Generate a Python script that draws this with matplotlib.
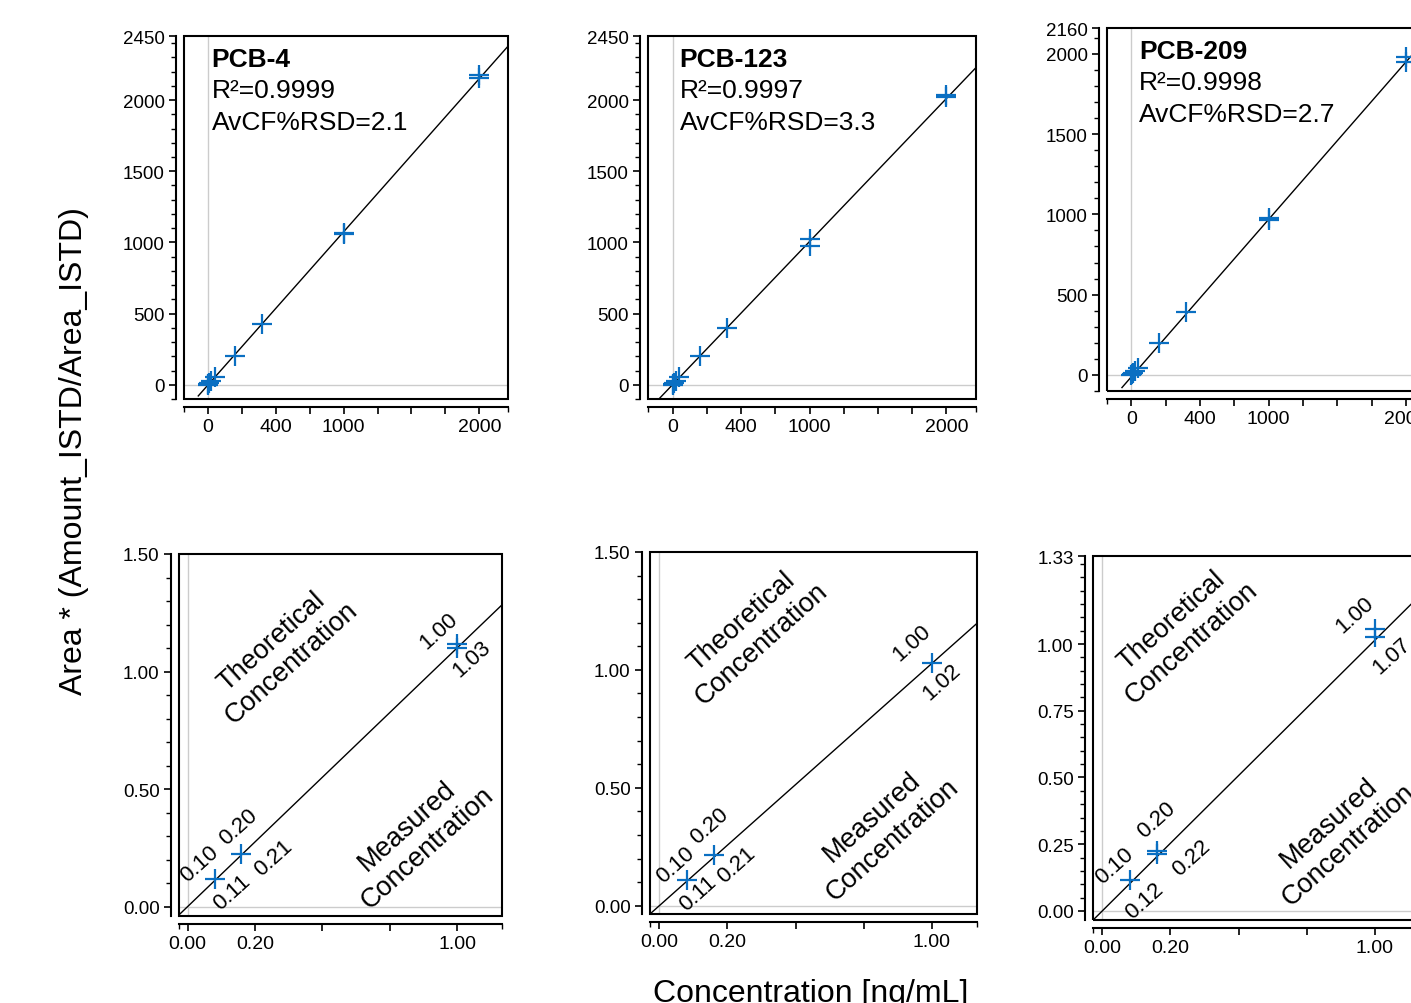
import matplotlib
matplotlib.use("Agg")
import matplotlib.pyplot as plt
from matplotlib.patches import Rectangle
from matplotlib.transforms import blended_transform_factory
import numpy as np

plt.rcParams["font.family"] = ["Liberation Sans", "DejaVu Sans"]

W, H = 1411, 1004
BLUE = "#0a6fc2"
LIGHT = "#cccccc"

# ---------------- data ----------------
compounds = ["PCB-4", "PCB-123", "PCB-209"]
r2_values = ["0.9999", "0.9997", "0.9998"]
rsd_values = ["2.1", "3.3", "2.7"]

# calibration levels (top row)
cal_x = [1, 5, 10, 25, 50, 200, 400, 1000, 1000, 2000, 2000]
cal_y = {
    "PCB-4":   [1, 5, 11, 27, 52, 204, 427, 1058, 1064, 2152, 2176],
    "PCB-123": [1, 5, 10, 26, 52, 200, 397, 974, 1026, 2025, 2035],
    "PCB-209": [0, 4, 9, 24, 45, 196, 393, 965, 975, 1946, 1981],
}
cal_slope = [1.077, 1.005, 0.98]
cal_icept = [-3, 1, -12]
cal_start = [-70, -95, -68]

cal_xticks = [0, 250, 500, 750, 1000, 1250, 1500, 1750, 2000]
cal_xticklabels = ["0", "", "400", "", "1000", "", "", "", "2000"]
cal_yticks = [
    [0, 500, 1000, 1500, 2000, 2450],
    [0, 500, 1000, 1500, 2000, 2450],
    [0, 500, 1000, 1500, 2000, 2160],
]

# QC check (bottom row)
qc_theo = ["0.10", "0.20", "1.00"]
qc_meas = {
    "PCB-4":   ["0.11", "0.21", "1.03"],
    "PCB-123": ["0.11", "0.21", "1.02"],
    "PCB-209": ["0.12", "0.22", "1.07"],
}
qc_x = {
    "PCB-4":   [0.1, 0.2, 1.0, 1.0],
    "PCB-123": [0.1, 0.2, 1.0],
    "PCB-209": [0.1, 0.2, 0.2, 1.0, 1.0],
}
qc_y = {
    "PCB-4":   [0.116, 0.224, 1.098, 1.119],
    "PCB-123": [0.110, 0.215, 1.031],
    "PCB-209": [0.116, 0.2125, 0.225, 1.025, 1.056],
}
qc_slope = [1.10, 1.028, 1.015]

qc_xticks = [0, 0.25, 0.5, 0.75, 1.0]
qc_xticklabels = ["0.00", "0.20", "", "", "1.00"]
qc_yticks = [
    [0, 0.5, 1.0, 1.5],
    [0, 0.5, 1.0, 1.5],
    [0, 0.25, 0.5, 0.75, 1.0, 1.33],
]

# ---------------- layout ----------------
# pixel boxes (left, top, right, bottom) of each frame
top_boxes = [(184, 37, 508, 400), (648, 37, 976, 400), (1107, 29, 1435, 392)]
bot_boxes = [(179, 555, 502, 917), (650, 553, 977, 915), (1093, 557, 1420, 921)]
top_xlims = [(-175, 2211), (-180, 2216), (-177, 2212)]
top_ylims = [(-100, 2450), (-100, 2450), (-90, 2160)]
top_minor = [np.arange(-100, 2450, 100), np.arange(-100, 2450, 100), np.arange(-100, 2160, 100)]
bot_xlims = [(-0.032, 1.167), (-0.034, 1.165), (-0.034, 1.165)]
bot_ylims = [(-0.04, 1.5), (-0.035, 1.5), (-0.034, 1.33)]
bot_minor = [np.arange(0, 1.5, 0.1), np.arange(0, 1.5, 0.1), np.arange(0, 1.33, 0.05)]
text_x = [29, 51, 55]

# label positions (theo, meas) for the three QC levels
lab_pos = [
    [((0.043, 0.183), (0.164, 0.062)), ((0.188, 0.343), (0.318, 0.211)), ((0.932, 1.176), (1.056, 1.055))],
    [((0.058, 0.177), (0.143, 0.054)), ((0.186, 0.339), (0.284, 0.177)), ((0.927, 1.116), (1.037, 0.953))],
    [((0.045, 0.169), (0.155, 0.038)), ((0.198, 0.344), (0.327, 0.200)), ((0.927, 1.110), (1.061, 0.956))],
]
theo_pos = [(0.350, 1.085), (0.340, 1.160), (0.292, 1.048)]
meas_pos = [(0.852, 0.298), (0.818, 0.330), (0.868, 0.292)]


def make_axes(fig, box):
    l, t, r, b = box
    ax = fig.add_axes([l / W, (H - b) / H, (r - l) / W, (b - t) / H])
    for side in ("top", "right"):
        ax.spines[side].set_visible(False)
    for side in ("left", "bottom"):
        ax.spines[side].set_position(("outward", 5.5))
        ax.spines[side].set_linewidth(1.5)
    ax.add_patch(Rectangle((0, 0), 1, 1, transform=ax.transAxes, fill=False,
                           lw=1.5, edgecolor="black", clip_on=False, zorder=5))
    ax.tick_params(which="major", direction="out", length=5, width=1.2)
    ax.tick_params(which="minor", direction="out", length=3.5, width=1.0)
    ax.tick_params(axis="y", labelsize=13.5, pad=3.5)
    ax.tick_params(axis="x", labelsize=14, pad=3)
    ax.axvline(0, color=LIGHT, lw=1, zorder=0)
    ax.axhline(0, color=LIGHT, lw=1, zorder=0)
    return ax


fig = plt.figure(figsize=(W / 100, H / 100), dpi=100)

for i, name in enumerate(compounds):
    # calibration curve
    ax = make_axes(fig, top_boxes[i])
    xl, yl = top_xlims[i], top_ylims[i]
    ax.set_xlim(xl)
    ax.set_ylim(yl)
    xs = np.array([cal_start[i], xl[1]])
    ax.plot(xs, cal_slope[i] * xs + cal_icept[i], color="black", lw=1, zorder=3)
    ax.plot(cal_x, cal_y[name], "+", ms=15, mew=1.6, color=BLUE, zorder=4)
    ax.set_xticks(cal_xticks)
    ax.set_xticklabels(cal_xticklabels)
    ax.set_xticks(list(xl), minor=True)
    ax.set_yticks(cal_yticks[i])
    ax.set_yticklabels([str(v) for v in cal_yticks[i]])
    ax.set_yticks(top_minor[i], minor=True)
    tx = text_x[i]
    trans = blended_transform_factory(ax.transData, ax.transAxes)
    ax.text(tx, 0.918, name, transform=trans, fontsize=19, fontweight="bold", va="baseline")
    ax.text(tx, 0.832, "R\u00b2=" + r2_values[i], transform=trans, fontsize=19, va="baseline")
    ax.text(tx, 0.744, "AvCF%RSD=" + rsd_values[i], transform=trans, fontsize=19, va="baseline")

    # QC check
    ax = make_axes(fig, bot_boxes[i])
    xl, yl = bot_xlims[i], bot_ylims[i]
    ax.set_xlim(xl)
    ax.set_ylim(yl)
    xs = np.array(xl)
    ax.plot(xs, qc_slope[i] * xs, color="black", lw=1, zorder=3)
    ax.plot(qc_x[name], qc_y[name], "+", ms=15, mew=1.6, color=BLUE, zorder=4)
    ax.set_xticks(qc_xticks)
    ax.set_xticklabels(qc_xticklabels)
    ax.set_xticks(list(xl), minor=True)
    ax.set_yticks(qc_yticks[i])
    ax.set_yticklabels(["%.2f" % v for v in qc_yticks[i]])
    ax.set_yticks(bot_minor[i], minor=True)
    for k in range(3):
        (tx, ty), (mx, my) = lab_pos[i][k]
        ax.text(tx, ty, qc_theo[k], rotation=42, rotation_mode="anchor",
                ha="center", va="center", fontsize=16)
        ax.text(mx, my, qc_meas[name][k], rotation=42, rotation_mode="anchor",
                ha="center", va="center", fontsize=16)
    ax.text(*theo_pos[i], "Theoretical\nConcentration", rotation=42, rotation_mode="anchor",
            ha="center", va="center", fontsize=19.5, multialignment="center")
    ax.text(*meas_pos[i], "Measured\nConcentration", rotation=42, rotation_mode="anchor",
            ha="center", va="center", fontsize=19.5, multialignment="center")

fig.text(74 / W, (H - 451) / H, "Area * (Amount_ISTD/Area_ISTD)", rotation=90,
         ha="center", va="center", fontsize=23)
fig.text(811 / W, 1.5 / H, "Concentration [ng/mL]", ha="center", va="baseline", fontsize=23)

fig.savefig("out.png", dpi=100)
plt.close(fig)
